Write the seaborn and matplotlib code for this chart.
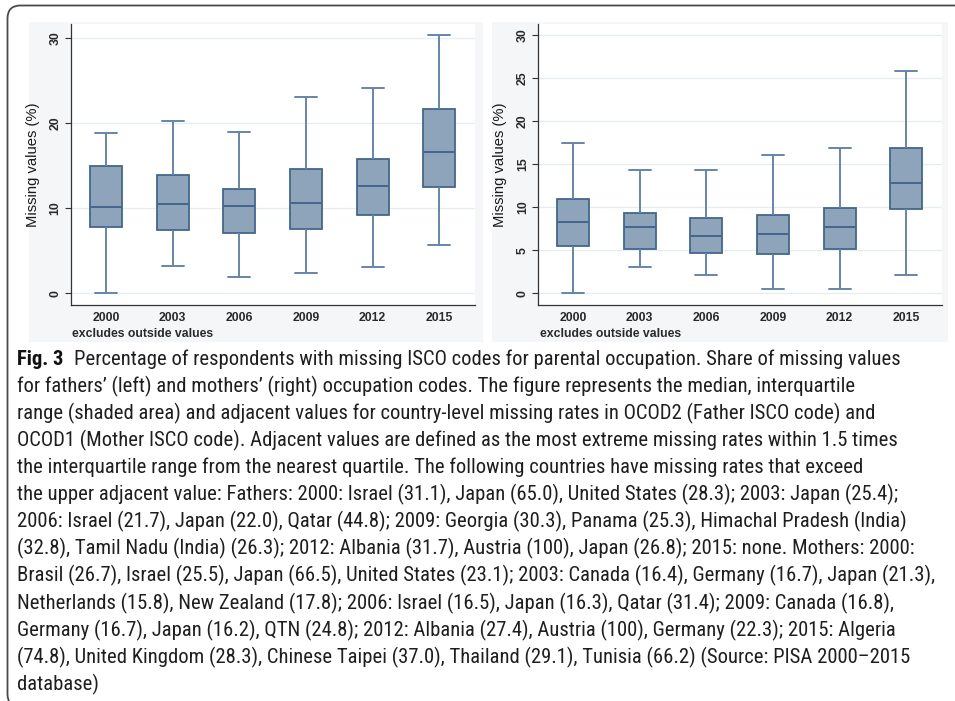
import numpy as np
import pandas as pd
import matplotlib
matplotlib.use("Agg")
import matplotlib.pyplot as plt
from matplotlib import font_manager as fm
from matplotlib.patches import Rectangle, FancyBboxPatch
from matplotlib.transforms import IdentityTransform
import seaborn as sns

# ---------------- data ----------------
years = ["2000", "2003", "2006", "2009", "2012", "2015"]

# Fathers (left panel): lower adjacent, Q1, median, Q3, upper adjacent
father_low = [0.0, 3.2, 1.9, 2.4, 3.1, 5.7]
father_q1 = [7.8, 7.5, 7.1, 7.6, 9.2, 12.5]
father_med = [10.2, 10.5, 10.3, 10.6, 12.6, 16.6]
father_q3 = [15.0, 13.9, 12.3, 14.6, 15.8, 21.7]
father_high = [18.8, 20.3, 19.0, 23.1, 24.1, 30.4]

# Mothers (right panel)
mother_low = [0.0, 3.0, 2.1, 0.5, 0.5, 2.1]
mother_q1 = [5.5, 5.2, 4.7, 4.6, 5.2, 9.8]
mother_med = [8.3, 7.7, 6.6, 6.9, 7.7, 12.8]
mother_q3 = [11.0, 9.3, 8.7, 9.1, 9.9, 16.9]
mother_high = [17.5, 14.3, 14.3, 16.1, 16.9, 25.8]

left_ticks = [0, 10, 20, 30]
right_ticks = [0, 5, 10, 15, 20, 25, 30]

y_label = "Missing values (%)"
note = "excludes outside values"

caption_head = "Fig. 3"
caption_lines = [
    "Percentage of respondents with missing ISCO codes for parental occupation. Share of missing values",
    "for fathers\u2019 (left) and mothers\u2019 (right) occupation codes. The figure represents the median, interquartile",
    "range (shaded area) and adjacent values for country-level missing rates in OCOD2 (Father ISCO code) and",
    "OCOD1 (Mother ISCO code). Adjacent values are defined as the most extreme missing rates within 1.5 times",
    "the interquartile range from the nearest quartile. The following countries have missing rates that exceed",
    "the upper adjacent value: Fathers: 2000: Israel (31.1), Japan (65.0), United States (28.3); 2003: Japan (25.4);",
    "2006: Israel (21.7), Japan (22.0), Qatar (44.8); 2009: Georgia (30.3), Panama (25.3), Himachal Pradesh (India)",
    "(32.8), Tamil Nadu (India) (26.3); 2012: Albania (31.7), Austria (100), Japan (26.8); 2015: none. Mothers: 2000:",
    "Brasil (26.7), Israel (25.5), Japan (66.5), United States (23.1); 2003: Canada (16.4), Germany (16.7), Japan (21.3),",
    "Netherlands (15.8), New Zealand (17.8); 2006: Israel (16.5), Japan (16.3), Qatar (31.4); 2009: Canada (16.8),",
    "Germany (16.7), Japan (16.2), QTN (24.8); 2012: Albania (27.4), Austria (100), Germany (22.3); 2015: Algeria",
    "(74.8), United Kingdom (28.3), Chinese Taipei (37.0), Thailand (29.1), Tunisia (66.2) (Source: PISA 2000\u20132015",
    "database)",
]

# ---------------- style ----------------
sns.set_style("white")
plt.rcParams["font.family"] = ["Liberation Sans", "DejaVu Sans"]


def has_font(name):
    try:
        fm.findfont(fm.FontProperties(family=name), fallback_to_default=False)
        return True
    except Exception:
        return False


cap_font = "DejaVu Sans"
for cand in ["Liberation Sans Narrow", "Roboto Condensed", "DejaVu Sans Condensed", "Open Sans"]:
    if has_font(cand):
        cap_font = cand
        break

FILL = "#8ea4ba"
EDGE = "#44668a"
WHISK = "#6585a8"
AXC = "#333333"
TXT = "#1a1a1a"
GRID = "#e6edf0"
REGION = "#f4f6f8"
TICK_FS = 8.8

W, H = 955, 701
fig = plt.figure(figsize=(W / 100, H / 100), dpi=100)
fig.patch.set_facecolor("white")


def frac_rect(x0, y0, x1, y1):
    return [x0 / W, 1 - y1 / H, (x1 - x0) / W, (y1 - y0) / H]


# graph-region backgrounds
for (x0, y0, x1, y1) in [(29, 22, 483, 342), (492, 22, 948, 342)]:
    l, b, w, h = frac_rect(x0, y0, x1, y1)
    fig.add_artist(Rectangle((l, b), w, h, transform=fig.transFigure,
                             facecolor=REGION, edgecolor="none", zorder=-2))

# outer rounded frame
frame = FancyBboxPatch((7.5, -6), 990, 701 + 6 - 5.5,
                       boxstyle="round,pad=0,rounding_size=13",
                       transform=IdentityTransform(), facecolor="none",
                       edgecolor="#4a4a4a", linewidth=1.3, zorder=10, clip_on=False)
fig.add_artist(frame)


def draw_panel(rect, low, q1, med, q3, high, ticks, ylim, xlim):
    ax = fig.add_axes(frac_rect(*rect))
    ax.set_facecolor("white")
    vals = np.column_stack([low, q1, med, q3, high]).ravel()
    df = pd.DataFrame({"year": np.repeat(years, 5), "value": vals})
    sns.boxplot(data=df, x="year", y="value", order=years, ax=ax,
                width=0.48, whis=(0, 100), showfliers=False,
                color=FILL, saturation=1, linecolor=EDGE, linewidth=1.3,
                whiskerprops=dict(color=WHISK, linewidth=1.4),
                capprops=dict(color=WHISK, linewidth=1.4),
                medianprops=dict(color=EDGE, linewidth=1.4))
    # widen the whisker caps (Stata style)
    for ln in ax.lines:
        xd = np.asarray(ln.get_xdata(), float)
        yd = np.asarray(ln.get_ydata(), float)
        if len(xd) == 2 and yd[0] == yd[1] and abs(abs(xd[1] - xd[0]) - 0.24) < 0.02:
            c = xd.mean()
            ln.set_xdata([c - 0.165, c + 0.165])
    ax.set_xlim(*xlim)
    ax.set_ylim(*ylim)
    ax.set_yticks(ticks)
    ax.set_yticklabels([str(t) for t in ticks], rotation=90, va="center")
    ax.set_axisbelow(True)
    ax.yaxis.grid(True, color=GRID, linewidth=0.9)
    ax.xaxis.grid(False)
    for s in ["top", "right"]:
        ax.spines[s].set_visible(False)
    for s in ["left", "bottom"]:
        ax.spines[s].set_color(AXC)
        ax.spines[s].set_linewidth(0.9)
    ax.tick_params(axis="y", which="major", left=True, length=4, width=0.8,
                   color=AXC, pad=2.5, labelsize=TICK_FS, labelcolor=TXT)
    ax.tick_params(axis="x", which="major", bottom=False, length=0, pad=5,
                   labelsize=TICK_FS, labelcolor=TXT)
    for lab in ax.get_xticklabels() + ax.get_yticklabels():
        lab.set_fontweight("bold")
        lab.set_color("#2a2a2a")
    ax.set_xlabel("")
    ax.set_ylabel(y_label, fontsize=10.6, color=TXT)
    x0, y0, x1, y1 = rect
    ax.yaxis.set_label_coords(-(31) / (x1 - x0), (y1 - 165) / (y1 - y0))
    fig.text((x0 + 1.5) / W, 1 - 334 / H, note, fontsize=TICK_FS, color="#2a2a2a",
             fontweight="bold", ha="left", va="center")
    return ax


axL = draw_panel((70.5, 24, 475, 305), father_low, father_q1, father_med,
                 father_q3, father_high, left_ticks, (-1.376, 31.68), (-0.532, 5.535))
axR = draw_panel((538, 24, 942, 305), mother_low, mother_q1, mother_med,
                 mother_q3, mother_high, right_ticks, (-1.359, 31.28), (-0.525, 5.535))

# ---------------- caption ----------------
x_start = 17
base0 = 365
dy = 27.1
fs = 14.0
fam = [cap_font, "DejaVu Sans"]
t_head = fig.text(x_start / W, 1 - base0 / H, caption_head, fontsize=fs,
                  fontweight="bold", family=fam, color="#111111",
                  ha="left", va="baseline")
texts = []
for i, line in enumerate(caption_lines):
    t = fig.text(x_start / W, 1 - (base0 + dy * i) / H, line, fontsize=fs,
                 family=fam, color="#1e1e1e", ha="left", va="baseline")
    texts.append(t)

fig.canvas.draw()
r = fig.canvas.get_renderer()
w_head = t_head.get_window_extent(r).width
widths = [t.get_window_extent(r).width for t in texts]
gap = 0.5 * fs * 100 / 72
scale = min(922.0 / (w_head + gap + widths[0]), 924.0 / max(widths[1:]))
fs2 = fs * scale
t_head.set_fontsize(fs2)
for t in texts:
    t.set_fontsize(fs2)
texts[0].set_x((x_start + (w_head + gap) * scale) / W)

fig.savefig("out.png", dpi=100, facecolor="white")
